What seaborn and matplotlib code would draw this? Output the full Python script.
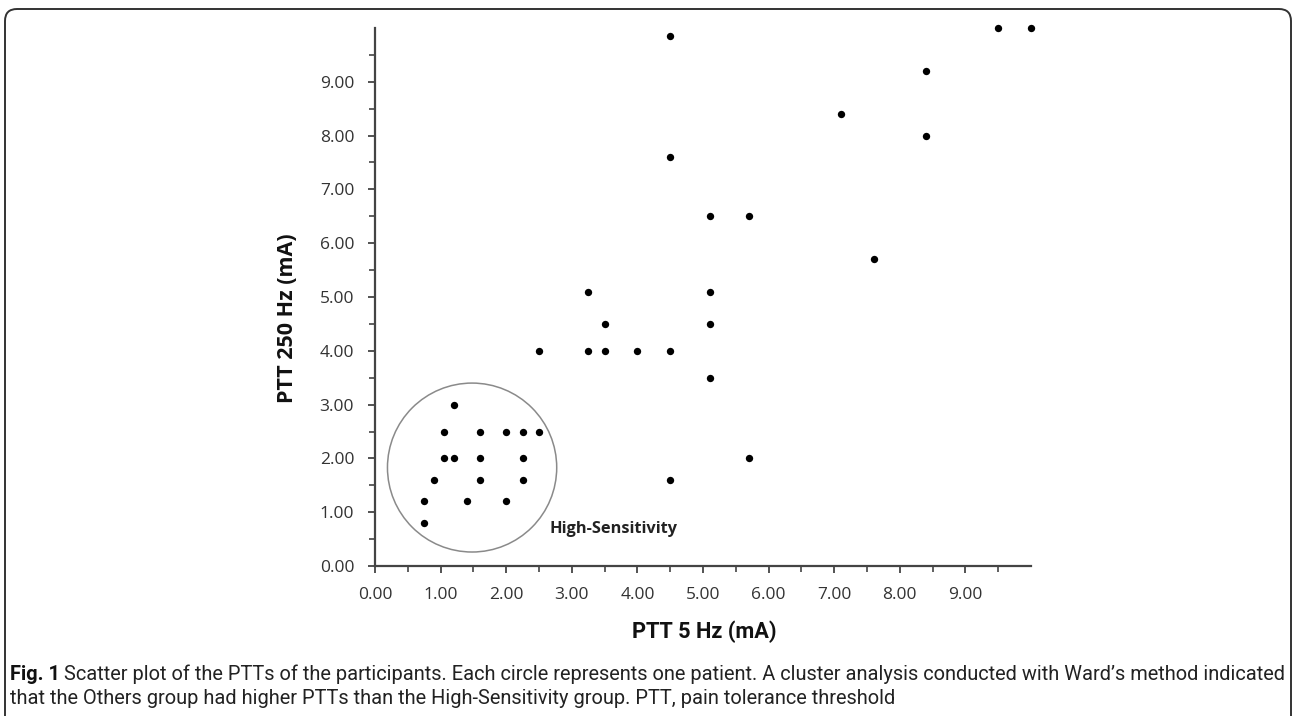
import numpy as np
import pandas as pd
import matplotlib
matplotlib.use("Agg")
import matplotlib.pyplot as plt
from matplotlib.patches import Ellipse, FancyBboxPatch
from matplotlib.ticker import FixedLocator
import seaborn as sns

# PTT values (mA)
ptt_5hz = [4.5, 9.5, 10.0, 8.4, 7.1, 8.4, 4.5, 5.1, 5.7, 7.6,
           3.25, 5.1, 3.5, 5.1, 2.5, 3.25, 3.5, 4.0, 4.5, 5.1,
           5.7, 4.5,
           1.2, 1.05, 1.6, 2.0, 2.25, 2.5, 1.05, 1.2, 1.6, 2.25,
           0.9, 1.6, 2.25, 0.75, 1.4, 2.0, 0.75]
ptt_250hz = [9.85, 10.0, 10.0, 9.2, 8.4, 8.0, 7.6, 6.5, 6.5, 5.7,
             5.1, 5.1, 4.5, 4.5, 4.0, 4.0, 4.0, 4.0, 4.0, 3.5,
             2.0, 1.6,
             3.0, 2.5, 2.5, 2.5, 2.5, 2.5, 2.0, 2.0, 2.0, 2.0,
             1.6, 1.6, 1.6, 1.2, 1.2, 1.2, 0.8]
tick_vals = list(range(10))

caption_1 = ("Scatter plot of the PTTs of the participants. Each circle represents "
             "one patient. A cluster analysis conducted with Ward\u2019s method indicated")
caption_2 = ("that the Others group had higher PTTs than the High-Sensitivity group. "
             "PTT, pain tolerance threshold")

df = pd.DataFrame({"x": ptt_5hz, "y": ptt_250hz})

sns.set_theme(style="white")
plt.rcParams["font.family"] = ["Open Sans", "DejaVu Sans"]

W, H = 1296, 716
fig = plt.figure(figsize=(W / 100, H / 100), dpi=100)
ax = fig.add_axes([375 / W, 150 / H, 656 / W, 538 / H])

sns.scatterplot(data=df, x="x", y="y", ax=ax, color="black", s=28,
                linewidth=0, edgecolor="black", zorder=3, clip_on=False)

# cluster circle around the High-Sensitivity group
ax.add_patch(Ellipse((1.48, 1.83), width=2.58, height=3.14, fill=False,
                     edgecolor="#8a8a8a", linewidth=1.1))
ax.text(2.66, 0.69, "High-Sensitivity", fontsize=11.8, fontweight="bold",
        color="#222222", va="center", ha="left")

ax.set_xlim(0, 10)
ax.set_ylim(0, 10)
ax.xaxis.set_major_locator(FixedLocator(tick_vals))
ax.yaxis.set_major_locator(FixedLocator(tick_vals))
ax.xaxis.set_minor_locator(FixedLocator(np.arange(0.5, 10, 1.0)))
ax.yaxis.set_minor_locator(FixedLocator(np.arange(0.5, 10, 1.0)))
ax.set_xticklabels([f"{v:.2f}" for v in tick_vals])
ax.set_yticklabels([f"{v:.2f}" for v in tick_vals])

for side in ["top", "right"]:
    ax.spines[side].set_visible(False)
for side in ["left", "bottom"]:
    ax.spines[side].set_color("#444444")
    ax.spines[side].set_linewidth(1.6)

ax.tick_params(axis="both", which="major", direction="out", length=5,
               width=1.3, color="#444444", labelsize=12.5,
               labelcolor="#333333", pad=10, bottom=True, left=True)
ax.tick_params(axis="both", which="minor", direction="out", length=4,
               width=1.2, color="#444444", bottom=True, left=True)

ax.set_xlabel("")
ax.set_ylabel("PTT 250 Hz (mA)", fontsize=15.5, fontweight="bold",
              color="#111111")
ax.yaxis.set_label_coords(-0.117, 0.46)

# rounded frame around the figure
fig.patches.append(FancyBboxPatch((0.05, -0.5), 12.86, 7.57,
                                  boxstyle="round,pad=0,rounding_size=0.12",
                                  transform=fig.dpi_scale_trans,
                                  fill=False, edgecolor="#333333",
                                  linewidth=1.4, figure=fig))

cap_font = ["Roboto", "DejaVu Sans"]


def fit_width(txt, target_px, size):
    # shrink/grow the font so the text spans target_px
    txt.set_fontsize(size)
    fig.canvas.draw()
    w = txt.get_window_extent().width
    txt.set_fontsize(size * target_px / w)


xlab = fig.text(704 / W, 1 - 632 / H, "PTT 5 Hz (mA)", fontweight="bold",
                ha="center", va="center", color="#111111", family=cap_font)
fit_width(xlab, 145, 16)

# caption
y1 = 1 - 674 / H
y2 = 1 - 699 / H
fig_lbl = fig.text(10 / W, y1, "Fig. 1", fontweight="bold", color="#111111",
                   family=cap_font, va="center", ha="left")
cap1 = fig.text(60 / W, y1, caption_1, color="#222222", family=cap_font,
                va="center", ha="left")
cap2 = fig.text(10 / W, y2, caption_2, color="#222222", family=cap_font,
                va="center", ha="left")

size = 13.0
for _ in range(3):
    fig_lbl.set_fontsize(size)
    cap1.set_fontsize(size)
    cap2.set_fontsize(size)
    fig.canvas.draw()
    bb = fig_lbl.get_window_extent()
    cap1.set_x((bb.x1 + 0.3 * size) / W)
    fig.canvas.draw()
    right = cap1.get_window_extent().x1
    size *= (1283 - 10) / (right - 10)
fig.canvas.draw()
bb = fig_lbl.get_window_extent()
cap1.set_x((bb.x1 + 0.3 * size) / W)

fig.savefig("out.png", dpi=100)
